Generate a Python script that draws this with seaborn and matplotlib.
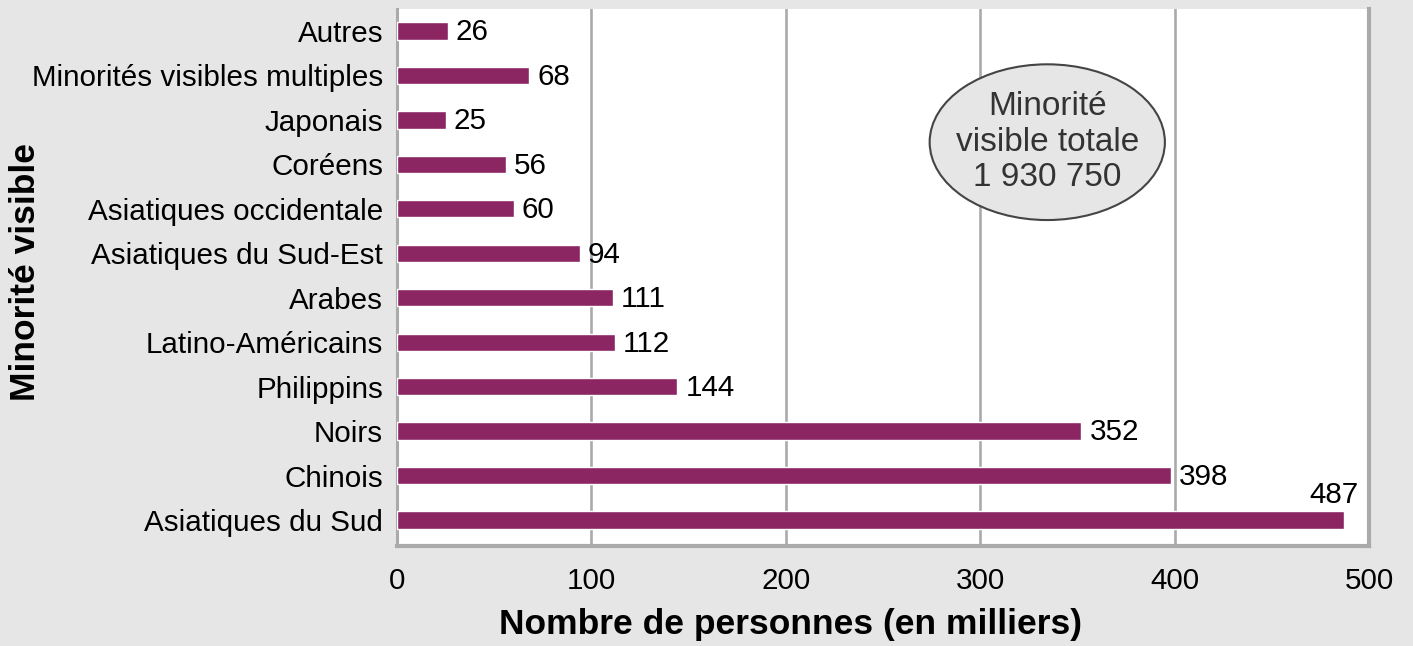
import matplotlib
matplotlib.use("Agg")
import matplotlib.pyplot as plt
from matplotlib.patches import Ellipse
import pandas as pd
import seaborn as sns

categories = ["Autres", "Minorités visibles multiples", "Japonais", "Coréens",
              "Asiatiques occidentale", "Asiatiques du Sud-Est", "Arabes",
              "Latino-Américains", "Philippins", "Noirs", "Chinois",
              "Asiatiques du Sud"]
values = [26, 68, 25, 56, 60, 94, 111, 112, 144, 352, 398, 487]
x_ticks = [0, 100, 200, 300, 400, 500]
total_text = "Minorité\nvisible totale\n1 930 750"

df = pd.DataFrame({"Minorité": categories, "Nombre": values})

sns.set_style("white")
plt.rcParams["font.family"] = ["Liberation Sans", "DejaVu Sans"]
plt.rcParams["text.color"] = "black"
plt.rcParams["axes.labelcolor"] = "black"
plt.rcParams["xtick.color"] = "black"
plt.rcParams["ytick.color"] = "black"

bg = "#e6e6e6"
grid_col = "#aaaaaa"
bar_col = "#8c2663"
fs = 21.3

fig = plt.figure(figsize=(14.13, 6.46), dpi=100, facecolor=bg)
ax = fig.add_axes([397 / 1413, 1 - 546 / 646, 972 / 1413, 537 / 646])
ax.set_facecolor("white")

sns.barplot(data=df, x="Nombre", y="Minorité", orient="h", color=bar_col,
            width=0.39, saturation=1, ax=ax, zorder=3)

ax.set_xlim(0, 500)
ax.set_ylim(11.585, -0.495)
ax.set_xticks(x_ticks)
ax.set_xticklabels([str(t) for t in x_ticks])
ax.tick_params(axis="x", length=0, pad=15, labelsize=fs, labelcolor="black")
ax.tick_params(axis="y", length=0, pad=10, labelsize=fs, labelcolor="black")
for t in x_ticks[1:-1]:
    ax.axvline(t, color=grid_col, lw=1.9, zorder=1)

for side in ["left", "bottom", "right"]:
    ax.spines[side].set_color(grid_col)
ax.spines["left"].set_linewidth(2.2)
ax.spines["bottom"].set_linewidth(3)
ax.spines["right"].set_linewidth(3)
ax.spines["top"].set_visible(False)

for i, v in enumerate(values):
    if v > 450:
        ax.annotate(str(v), xy=(v, i), xytext=(11, 12), textcoords="offset points",
                    ha="right", va="baseline", fontsize=fs, color="black")
    else:
        ax.annotate(str(v), xy=(v, i), xytext=(6, -1), textcoords="offset points",
                    ha="left", va="center", fontsize=fs, color="black")

ell = Ellipse((0.669, 0.752), 0.242, 0.29, transform=ax.transAxes,
              facecolor=bg, edgecolor="#444444", lw=1.5, zorder=4)
ax.add_patch(ell)
ax.text(0.669, 0.752, total_text, transform=ax.transAxes, ha="center",
        va="center", fontsize=24, color="#333333", linespacing=1.2, zorder=5)

ax.set_xlabel("Nombre de personnes (en milliers)", fontsize=25.5,
              fontweight="bold", color="black")
ax.set_ylabel("Minorité visible", fontsize=25.5, fontweight="bold", color="black")
ax.xaxis.set_label_coords(0.405, -0.115)
ax.yaxis.set_label_coords(-0.365, 0.51)

fig.savefig("out.png", dpi=100, facecolor=bg)
